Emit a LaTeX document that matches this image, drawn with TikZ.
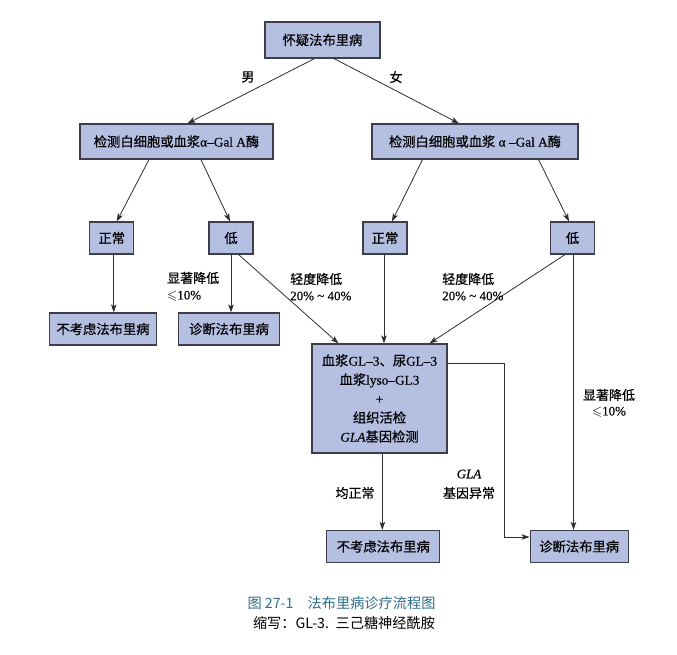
\documentclass[tikz,border=0pt]{standalone}
\usepackage{fontspec}
\usepackage{amssymb}
\setmainfont{Noto Sans CJK SC}[FakeBold=0.5]
\newfontfamily\lat{Liberation Serif}[FakeBold=0.3]
\newfontfamily\capfont{Noto Sans CJK SC}
\usetikzlibrary{arrows.meta}
\definecolor{boxfill}{RGB}{180,191,226}
\definecolor{boxline}{RGB}{60,62,75}
\definecolor{lineC}{RGB}{45,45,50}
\definecolor{capC}{RGB}{45,110,140}
\tikzset{
  box/.style={draw=boxline, fill=boxfill, line width=1.2pt, inner sep=0pt,
    minimum height=32pt, font=\fontsize{13.3}{15}\selectfont, text=black},
  arr/.style={draw=lineC, line width=0.8pt, -{Stealth[length=8pt,width=5.5pt,inset=2pt]}},
  lbl/.style={font=\fontsize{13}{16}\selectfont, inner sep=0pt, text=black},
  captext/.style={font=\capfont\fontsize{14.2}{17}\selectfont, inner sep=0pt}
}
\begin{document}
\begin{tikzpicture}[x=1pt,y=-1pt]
\useasboundingbox[fill=white] (0,0) rectangle (677,654);
% boxes
\node[box, minimum width=115pt, minimum height=36pt] (top) at (322.5,40) {怀疑法布里病};
\node[box, minimum width=193pt, minimum height=35pt] (enzL) at (176.5,141.5) {检测白细胞或血浆{\lat α–Gal A}酶};
\node[box, minimum width=206pt, minimum height=35pt] (enzR) at (475,141.5) {检测白细胞或血浆{\lat{} α –Gal A}酶};
\node[box, minimum width=44pt] (norL) at (111.75,238) {正常};
\node[box, minimum width=44pt] (lowL) at (231,238) {低};
\node[box, minimum width=44pt] (norR) at (385,238) {正常};
\node[box, minimum width=44pt] (lowR) at (572.5,238) {低};
\node[box, minimum width=107pt] (noL) at (103,329) {不考虑法布里病};
\node[box, minimum width=101pt] (diagL) at (229,329) {诊断法布里病};
\node[box, minimum width=135pt, minimum height=109pt, align=center,
  font=\fontsize{13.3}{19}\selectfont] (mid) at (379.5,398.5)
  {血浆{\lat GL–3}、尿{\lat GL–3}\\ 血浆{\lat lyso–GL3}\\ {\lat +}\\ 组织活检\\ {\lat\itshape GLA}基因检测};
\node[box, minimum width=113pt] (noB) at (383.3,546.5) {不考虑法布里病};
\node[box, minimum width=98pt] (diagB) at (579.2,546.5) {诊断法布里病};
% arrows
\draw[arr] ([xshift=-8pt]top.south) -- ([xshift=11pt]enzL.north);
\draw[arr] ([xshift=11.5pt]top.south) -- ([xshift=-16pt]enzR.north);
\draw[arr] ([xshift=-27.5pt]enzL.south) -- ([xshift=5pt]norL.north);
\draw[arr] ([xshift=24.5pt]enzL.south) -- ([xshift=-1pt]lowL.north);
\draw[arr] ([xshift=-52.5pt]enzR.south) -- ([xshift=7pt]norR.north);
\draw[arr] ([xshift=63.6pt]enzR.south) -- ([xshift=-3.5pt]lowR.north);
\draw[arr] ([xshift=2pt]norL.south) -- ([xshift=2pt]norL.south |- noL.north);
\draw[arr] (lowL.south) -- (lowL.south |- diagL.north);
\draw[arr] ([xshift=7.6pt]lowL.south) -- ([xshift=-41pt]mid.north);
\draw[arr] ([xshift=-1pt]norR.south) -- ([xshift=-1pt]norR.south |- mid.north);
\draw[arr] ([xshift=-7.5pt]lowR.south) -- ([xshift=50pt]mid.north);
\draw[arr] ([xshift=1pt]lowR.south) -- ([xshift=1pt]lowR.south |- diagB.north);
\draw[arr] ([xshift=-1pt]noB.north |- mid.south) -- ([xshift=-1pt]noB.north);
\draw[arr] ([yshift=35.5pt]mid.east) -- ++(57,0) |- ([yshift=9.5pt]diagB.west);
% labels
\node[lbl] (lm) at (248,77) {男};
\node[lbl] (lf) at (396,77) {女};
\node[lbl, anchor=west] (s1a) at (167,278) {显著降低};
\node[lbl, anchor=west] (s1b) at (167,296) {$\leqslant${\lat 10\%}};
\node[lbl, anchor=west] (q1a) at (290,279) {轻度降低};
\node[lbl, anchor=west] (q1b) at (290,296) {\lat 20\% \textasciitilde{} 40\%};
\node[lbl, anchor=west] (q2a) at (442,279) {轻度降低};
\node[lbl, anchor=west] (q2b) at (442,296) {\lat 20\% \textasciitilde{} 40\%};
\node[lbl] (s2a) at (609,395) {显著降低};
\node[lbl] (s2b) at (609,412) {$\leqslant${\lat 10\%}};
\node[lbl] (g1) at (469,474) {\lat\itshape GLA};
\node[lbl] (g2) at (469,493) {基因异常};
\node[lbl] (eq) at (355,493) {均正常};
% caption
\node[captext, text=capC] (c1) at (341.5,603) {图 27-1\quad 法布里病诊疗流程图};
\node[captext, text=black] (c2) at (344,623) {缩写：GL-3.\, 三己糖神经酰胺};
\end{tikzpicture}
\end{document}
